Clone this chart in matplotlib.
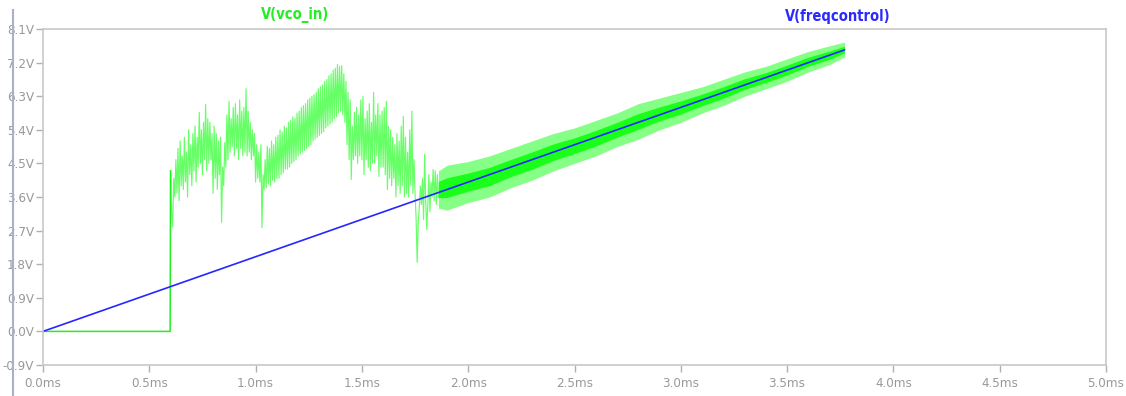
import numpy as np
import matplotlib
matplotlib.use('Agg')
from matplotlib import pyplot as plt
from matplotlib.lines import Line2D

plt.rcParams['font.family'] = ['DejaVu Sans']
plt.rcParams['font.stretch'] = 'condensed'

# V(vco_in): flat start, then the noisy part (values every 0.005 ms)
flat_t = [0.0, 0.598]
flat_v = [0.0, 0.0]

noisy_t0 = 0.60
noisy_dt = 0.005
noisy_v = [4.30, 3.20, 2.80, 4.10, 3.60, 4.60, 3.70, 4.90, 3.50, 5.10,
           3.90, 4.70, 3.80, 5.20, 4.00, 4.80, 3.60, 5.40, 4.20, 5.00,
           3.90, 5.30, 4.30, 5.50, 4.00, 5.20, 4.40, 5.87, 4.50, 5.40,
           4.20, 5.60, 4.60, 6.08, 4.30, 5.70, 4.50, 5.60, 4.60, 5.30,
           3.70, 5.50, 4.10, 5.30, 3.80, 5.10, 4.20, 5.20, 2.92, 4.40,
           3.90, 5.06, 4.40, 5.80, 4.60, 6.16, 4.80, 5.70, 4.95, 6.00,
           4.70, 6.10, 4.90, 5.80, 4.60, 6.20, 4.90, 5.90, 4.70, 6.00,
           4.80, 6.50, 4.70, 5.90, 4.80, 5.60, 4.60, 5.40, 4.70, 5.30,
           4.00, 5.00, 4.10, 4.80, 4.00, 5.00, 2.78, 4.20, 3.80, 4.60,
           3.85, 4.96, 3.95, 4.90, 3.90, 5.10, 4.05, 5.00, 4.00, 5.20,
           4.10, 5.25, 4.10, 5.40, 4.20, 5.35, 4.25, 5.50, 4.35, 5.45,
           4.35, 5.60, 4.40, 5.65, 4.50, 5.75, 4.55, 5.70, 4.60, 5.85,
           4.70, 5.90, 4.75, 6.00, 4.80, 6.05, 4.85, 6.10, 4.90, 6.20,
           4.95, 6.25, 5.00, 6.30, 5.10, 6.35, 5.15, 6.40, 5.20, 6.50,
           5.25, 6.55, 5.30, 6.60, 5.35, 6.70, 5.45, 6.75, 5.50, 6.85,
           5.55, 6.90, 5.60, 7.00, 5.70, 7.05, 5.75, 7.15, 5.85, 7.10,
           5.90, 7.12, 5.80, 6.90, 5.60, 6.70, 5.00, 6.40, 4.60, 6.20,
           4.07, 5.50, 4.60, 5.87, 4.70, 6.00, 4.50, 5.80, 4.70, 6.20,
           4.60, 6.30, 4.20, 5.70, 4.60, 5.90, 4.40, 6.10, 4.30, 5.60,
           4.50, 6.40, 4.50, 5.80, 4.70, 6.10, 4.15, 5.80, 4.40, 5.90,
           4.40, 6.00, 4.20, 6.16, 3.80, 5.50, 4.10, 5.40, 3.90, 5.20,
           4.10, 5.00, 3.60, 5.30, 3.90, 5.10, 3.70, 5.50, 3.90, 5.76,
           3.60, 5.20, 3.70, 4.80, 3.60, 5.40, 3.90, 5.90, 3.70, 4.60,
           3.70, 3.00, 1.85, 2.90, 3.30, 3.90, 3.40, 4.10, 3.00, 4.74,
           3.50, 2.73, 3.40, 4.20, 3.20, 4.00, 3.60, 4.34, 3.50, 4.30,
           3.40, 4.20, 3.60]

# settled part: band around V(freqcontrol)
band_t = [1.86, 1.90, 2.00, 2.10, 2.20, 2.30, 2.40, 2.50, 2.60, 2.70, 2.80,
          2.90, 3.00, 3.10, 3.20, 3.30, 3.40, 3.50, 3.60, 3.70, 3.77]
band_lo = [3.30, 3.25, 3.45, 3.60, 3.85, 4.05, 4.30, 4.50, 4.70, 4.95, 5.15,
           5.40, 5.60, 5.85, 6.05, 6.30, 6.50, 6.70, 6.95, 7.15, 7.35]
band_hi = [4.30, 4.45, 4.55, 4.70, 4.90, 5.10, 5.30, 5.45, 5.65, 5.85, 6.10,
           6.25, 6.40, 6.55, 6.75, 6.95, 7.10, 7.30, 7.50, 7.65, 7.75]

# V(freqcontrol): straight ramp
freq_t = [0.0, 3.77]
freq_v = [0.0, 7.54]

xticks = [0.0, 0.5, 1.0, 1.5, 2.0, 2.5, 3.0, 3.5, 4.0, 4.5, 5.0]
yticks = [-0.9, 0.0, 0.9, 1.8, 2.7, 3.6, 4.5, 5.4, 6.3, 7.2, 8.1]

fig = plt.figure(figsize=(11.26, 3.96), dpi=100)
ax = fig.add_axes([43/1126, 31/396, 1063/1126, 336/396])

noisy_t = noisy_t0 + noisy_dt*np.arange(len(noisy_v))
ax.plot(flat_t + [noisy_t0], flat_v + [noisy_v[0]], color='#22ee22', lw=1.1)
ax.plot(noisy_t, noisy_v, color='#00ff00', lw=0.85, alpha=0.6)

lo = np.array(band_lo)
hi = np.array(band_hi)
ax.fill_between(band_t, lo, hi, color='#85ff85', lw=0)
ax.fill_between(band_t, lo + 0.28*(hi-lo), hi - 0.28*(hi-lo), color='#1aff1a', lw=0)

ax.plot(freq_t, freq_v, color='#2626ff', lw=1.2)

ax.set_xlim(0, 5)
ax.set_ylim(-0.9, 8.1)
ax.set_xticks(xticks)
ax.set_xticklabels(['%.1fms' % x for x in xticks])
ax.set_yticks(yticks)
ax.set_yticklabels(['%.1fV' % y for y in yticks])
ax.tick_params(colors='#b0b0b0', labelcolor='#999999', labelsize=9.5, length=5, width=1)
ax.tick_params(axis='y', pad=1.5)
for s in ax.spines.values():
    s.set_color('#c8c8c8')
    s.set_linewidth(1.2)

fig.add_artist(Line2D([13/1126, 13/1126], [0, 1 - 10/396], color='#a8b2c4', lw=1.5))

fig.text(295/1126, 1 - 15/396, 'V(vco_in)', color='#22ee22', fontsize=10.5,
         fontweight='bold', ha='center', va='center')
fig.text(838/1126, 1 - 16/396, 'V(freqcontrol)', color='#2a2aff', fontsize=10.5,
         fontweight='bold', ha='center', va='center')

fig.savefig('out.png', dpi=100)
